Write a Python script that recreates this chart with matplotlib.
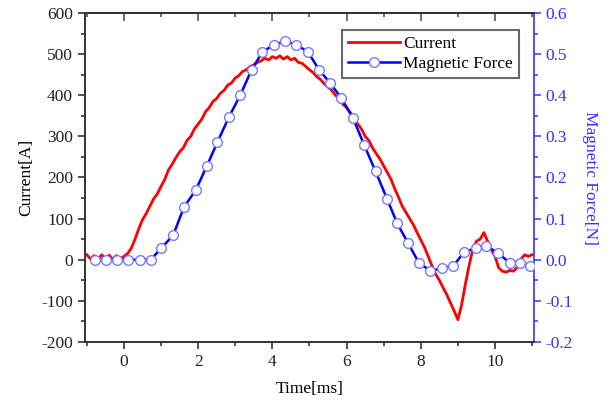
import matplotlib
matplotlib.use("Agg")
import matplotlib.pyplot as plt
from matplotlib.ticker import MultipleLocator, FormatStrFormatter, NullFormatter

plt.rcParams['font.family'] = ['Liberation Serif', 'DejaVu Serif']
plt.rcParams['axes.unicode_minus'] = False

# Current (red) time [ms] and values [A]
current_t = [-1.0, -0.9, -0.8, -0.7, -0.6, -0.5, -0.4, -0.3, -0.2, -0.1, 0.0,
             0.1, 0.2, 0.3, 0.4, 0.5, 0.6, 0.7, 0.8, 0.9, 1.0,
             1.1, 1.2, 1.3, 1.4, 1.5, 1.6, 1.7, 1.8, 1.9, 2.0,
             2.1, 2.2, 2.3, 2.4, 2.5, 2.6, 2.7, 2.8, 2.9, 3.0,
             3.1, 3.2, 3.3, 3.4, 3.5, 3.6, 3.7, 3.8, 3.9, 4.0,
             4.1, 4.2, 4.3, 4.4, 4.5, 4.6, 4.7, 4.8, 4.9, 5.0,
             5.1, 5.2, 5.3, 5.4, 5.5, 5.6, 5.7, 5.8, 5.9, 6.0,
             6.1, 6.2, 6.3, 6.4, 6.5, 6.6, 6.7, 6.8, 6.9, 7.0,
             7.1, 7.2, 7.3, 7.4, 7.5, 7.6, 7.7, 7.8, 7.9, 8.0,
             8.1, 8.2, 8.3, 8.4, 8.5, 8.6, 8.7, 8.8, 8.9, 9.0,
             9.1, 9.2, 9.3, 9.4, 9.5, 9.6, 9.7, 9.8, 9.9, 10.0,
             10.1, 10.2, 10.3, 10.4, 10.5, 10.6, 10.7, 10.8, 10.9, 11.0]
current_a = [12, 2, 10, 0, 12, 3, 11, 1, 10, 2, 8,
             15, 28, 50, 75, 97, 112, 130, 148, 160, 178,
             195, 218, 232, 248, 262, 272, 290, 300, 318, 330,
             342, 360, 370, 385, 392, 405, 412, 425, 430, 442,
             448, 458, 462, 470, 474, 480, 484, 490, 486, 494,
             490, 496, 488, 494, 486, 490, 480, 478, 470, 462,
             455, 445, 438, 428, 420, 412, 400, 392, 378, 370,
             358, 345, 330, 318, 300, 290, 272, 258, 245, 228,
             212, 195, 172, 152, 130, 115, 100, 85, 66, 48,
             30, 8, -15, -35, -50, -68, -85, -105, -125, -146,
             -110, -60, -15, 25, 45, 50, 66, 45, 25, 8,
             -20, -28, -30, -26, -28, -18, 2, 12, 8, 12]

# Magnetic force (blue) time [ms] and values [N]
force_t = [-0.78, -0.47, -0.18, 0.12, 0.43, 0.72, 1.01, 1.33, 1.62, 1.94,
           2.24, 2.52, 2.83, 3.14, 3.44, 3.73, 4.04, 4.35, 4.65, 4.96,
           5.26, 5.56, 5.86, 6.17, 6.47, 6.78, 7.09, 7.36, 7.66, 7.95,
           8.26, 8.58, 8.88, 9.16, 9.48, 9.76, 10.08, 10.39, 10.68, 10.95]
force_n = [0.0, 0.0, 0.0, 0.0, 0.0, 0.0, 0.028, 0.060, 0.128, 0.170,
           0.229, 0.286, 0.347, 0.401, 0.462, 0.505, 0.523, 0.531, 0.523, 0.505,
           0.462, 0.429, 0.393, 0.345, 0.280, 0.215, 0.148, 0.089, 0.040, -0.008,
           -0.027, -0.021, -0.015, 0.018, 0.028, 0.034, 0.016, -0.007, -0.007, -0.015]

x_ticks = [0, 2, 4, 6, 8, 10]

fig = plt.figure(figsize=(6.11, 4.08), dpi=100)
ax = fig.add_axes([0.139, 0.162, 0.735, 0.806])
ax2 = ax.twinx()

red = '#ff0000'
blue = '#0000ff'
lblue = '#3333ff'

l1, = ax.plot(current_t, current_a, color=red, lw=2.0, zorder=3)
l2, = ax2.plot(force_t, force_n, color=blue, lw=1.8, marker='o', ms=7,
               mfc='white', mec='#7777ff', mew=1.0, zorder=3)

ax.set_xlim(-1.05, 11.05)
ax.set_ylim(-200, 600)
ax2.set_ylim(-0.2, 0.6)

ax.set_xticks(x_ticks)
ax.xaxis.set_minor_locator(MultipleLocator(1))
ax.yaxis.set_major_locator(MultipleLocator(100))
ax.yaxis.set_minor_locator(MultipleLocator(50))
ax2.yaxis.set_major_locator(MultipleLocator(0.1))
ax2.yaxis.set_minor_locator(MultipleLocator(0.05))
ax2.yaxis.set_major_formatter(FormatStrFormatter('%.1f'))

fs = 12.5
lfs = 12.5
ax.tick_params(axis='x', which='both', direction='out', labelsize=fs,
               colors='#222222', width=1.1)
ax.tick_params(axis='x', which='major', length=5)
ax.tick_params(axis='x', which='minor', length=3)
ax.tick_params(axis='y', which='both', direction='out', labelsize=fs,
               colors='#222222', width=1.1)
ax.tick_params(axis='y', which='major', length=5)
ax.tick_params(axis='y', which='minor', length=3)
ax2.tick_params(axis='y', which='both', direction='out', labelsize=fs,
                colors=lblue, width=1.1)
ax2.tick_params(axis='y', which='major', length=5)
ax2.tick_params(axis='y', which='minor', length=3)

# top axis with inward ticks, no labels
top = ax.secondary_xaxis('top')
top.set_xticks(x_ticks)
top.xaxis.set_minor_locator(MultipleLocator(1))
top.xaxis.set_major_formatter(NullFormatter())
top.tick_params(axis='x', which='both', direction='in', colors='#444444', width=1.1)
top.tick_params(axis='x', which='major', length=6)
top.tick_params(axis='x', which='minor', length=3)
top.spines['top'].set_color('#444444')
top.spines['top'].set_linewidth(1.2)

for s in ['left', 'bottom', 'top']:
    ax.spines[s].set_color('#333333')
    ax.spines[s].set_linewidth(1.2)
    ax2.spines[s].set_color('#333333')
    ax2.spines[s].set_linewidth(1.2)
ax2.spines['right'].set_color(lblue)
ax2.spines['right'].set_linewidth(1.2)
ax.spines['right'].set_visible(False)

ax.set_xlabel('Time[ms]', fontsize=lfs, labelpad=8)
ax.set_ylabel('Current[A]', fontsize=lfs, labelpad=5)
ax2.set_ylabel('Magnetic Force[N]', fontsize=lfs, color=lblue, rotation=270,
               labelpad=18)

leg = ax2.legend([l1, l2], ['Current', 'Magnetic Force'], loc='upper right',
                 bbox_to_anchor=(0.975, 0.96), fontsize=fs, frameon=True,
                 fancybox=False, edgecolor='#444444', handlelength=3.0,
                 borderpad=0.35, labelspacing=0.25, handletextpad=0.2,
                 borderaxespad=0.2)
leg.get_frame().set_linewidth(1.5)

fig.savefig('out.png', dpi=100)
